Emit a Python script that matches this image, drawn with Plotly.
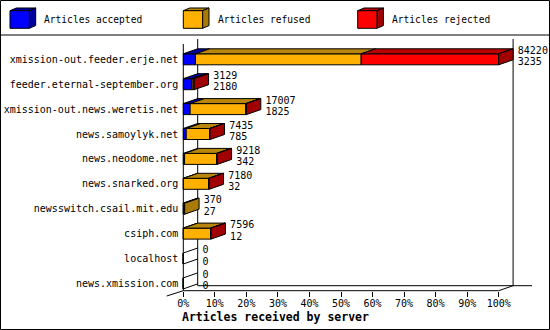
import plotly.graph_objects as go

# ---------------- data ----------------
servers = ["xmission-out.feeder.erje.net", "feeder.eternal-september.org",
           "xmission-out.news.weretis.net", "news.samoylyk.net", "news.neodome.net",
           "news.snarked.org", "newsswitch.csail.mit.edu", "csiph.com",
           "localhost", "news.xmission.com"]
offered = [84220, 3129, 17007, 7435, 9218, 7180, 370, 7596, 0, 0]
accepted = [3235, 2180, 1825, 785, 342, 32, 27, 12, 0, 0]
refused = [44255, 420, 14850, 6220, 8540, 6730, 343, 7260, 0, 0]
rejected = [36730, 300, 175, 145, 168, 138, 0, 128, 0, 0]
series_names = ["Articles accepted", "Articles refused", "Articles rejected"]
tick_pcts = [0, 10, 20, 30, 40, 50, 60, 70, 80, 90, 100]
tick_labels = [f"{t}%" for t in tick_pcts]
axis_title = "Articles received by server"

# ---------------- style ----------------
FRONT = ["#0000ff", "#ffb000", "#ff0000"]
TOP = ["#0000a8", "#b8860b", "#b80000"]
SIDE = ["#00009a", "#a87a08", "#a00000"]
FONT = "DejaVu Sans Mono"
W, H = 550, 330
SX = 3.154           # px per percent
SY = 24.9            # px per row
X0 = -183.3 / SX     # x value at left edge
Y0 = -59.3 / SY      # y value at top edge
DX = 14.4 / SX       # 3D depth in x units
DY = 5.0 / SY        # 3D depth in y units (upwards)
HH = 5.5 / SY        # half height of bar front
Y_FLOOR = (290.7 - 59.3) / SY

scale = max(a + r + j for a, r, j in zip(accepted, refused, rejected))
segs = [accepted, refused, rejected]

fig = go.Figure()

rows = list(range(len(servers)))
starts = [0.0] * len(servers)
seg_bounds = []
for k, vals in enumerate(segs):
    pct = [v / scale * 100 for v in vals]
    fig.add_trace(go.Bar(x=pct, y=rows, base=starts[:], orientation="h", width=2 * HH,
                         marker=dict(color=FRONT[k], line=dict(color="black", width=1)),
                         name=series_names[k], showlegend=False, hoverinfo="skip"))
    seg_bounds.append([(s, s + p) for s, p in zip(starts, pct)])
    starts = [s + p for s, p in zip(starts, pct)]

# top faces
for k in range(3):
    xs, ys = [], []
    for i in rows:
        a, b = seg_bounds[k][i]
        if b - a <= 0:
            continue
        yt = i - HH
        xs += [a, b, b + DX, a + DX, a, None]
        ys += [yt, yt, yt - DY, yt - DY, yt, None]
    if xs:
        fig.add_trace(go.Scatter(x=xs, y=ys, mode="lines", fill="toself", fillcolor=TOP[k],
                                 line=dict(color="black", width=1), showlegend=False, hoverinfo="skip"))

# side faces (last non-zero segment) and empty rows
zx, zy = [], []
for k in range(3):
    xs, ys = [], []
    for i in rows:
        last = max([kk for kk in range(3) if seg_bounds[kk][i][1] - seg_bounds[kk][i][0] > 0], default=None)
        if last != k:
            continue
        b = seg_bounds[k][i][1]
        yt, yb = i - HH, i + HH
        xs += [b, b + DX, b + DX, b, b, None]
        ys += [yt, yt - DY, yb - DY, yb, yt, None]
    if xs:
        fig.add_trace(go.Scatter(x=xs, y=ys, mode="lines", fill="toself", fillcolor=SIDE[k],
                                 line=dict(color="black", width=1), showlegend=False, hoverinfo="skip"))
for i in rows:
    if starts[i] <= 0:
        zx += [0, DX, None, 0, DX, None]
        zy += [i - HH, i - HH - DY, None, i + HH, i + HH - DY, None]
fig.add_trace(go.Scatter(x=zx, y=zy, mode="lines", line=dict(color="black", width=1),
                         showlegend=False, hoverinfo="skip"))

# value labels
lab_x = [s + DX + 4.7 / SX for s in starts]
fig.add_trace(go.Scatter(x=lab_x, y=[i - 7.8 / SY for i in rows], mode="text",
                         text=[str(v) for v in offered], textposition="middle right",
                         textfont=dict(family=FONT, size=10, color="black"),
                         showlegend=False, hoverinfo="skip"))
fig.add_trace(go.Scatter(x=lab_x, y=[i + 3.5 / SY for i in rows], mode="text",
                         text=[str(v) for v in accepted], textposition="middle right",
                         textfont=dict(family=FONT, size=10, color="black"),
                         showlegend=False, hoverinfo="skip"))

# walls / floor
yb_top_front = (44 - 59.3) / SY
yb_top_back = (39 - 59.3) / SY
x_back_end = (532 - 183.3) / SX
wall = [
    (0, yb_top_front, 0, Y_FLOOR),
    (DX, yb_top_back, DX, Y_FLOOR - DY),
    (100 + DX, yb_top_back, 100 + DX, Y_FLOOR - DY),
    (DX, Y_FLOOR - DY, x_back_end, Y_FLOOR - DY),
    (0, Y_FLOOR, 100, Y_FLOOR),
    (100, Y_FLOOR, 100 + DX, Y_FLOOR - DY),
    (-DX * 1.15, Y_FLOOR + DY * 1.06, 0, Y_FLOOR),
]
shapes = []
for x0, y0, x1, y1 in wall:
    shapes.append(dict(type="line", xref="x", yref="y", x0=x0, y0=y0, x1=x1, y1=y1,
                       line=dict(color="black", width=1), layer="below"))

# frame and separator
shapes.append(dict(type="rect", xref="paper", yref="paper", x0=0.5 / W, x1=549.5 / W,
                   y0=0.5 / H, y1=329.5 / H, line=dict(color="black", width=1)))
shapes.append(dict(type="line", xref="paper", yref="paper", x0=0, x1=1,
                   y0=1 - 35 / H, y1=1 - 35 / H, line=dict(color="black", width=1)))

# legend cubes
def px2paper(x, y):
    return x / W, 1 - y / H

def poly(points):
    p = [px2paper(x, y) for x, y in points]
    return "M " + " L ".join(f"{a:.5f},{b:.5f}" for a, b in p) + " Z"

annotations = []
leg_x = [10, 183.3, 357.7]
for k in range(3):
    x, y, w, h, dx, dy = leg_x[k], 10.7, 19.3, 17.6, 6.4, 2.7
    shapes.append(dict(type="path", xref="paper", yref="paper",
                       path=poly([(x, y), (x + w, y), (x + w + dx, y - dy), (x + dx, y - dy)]),
                       fillcolor=TOP[k], line=dict(color="black", width=1)))
    shapes.append(dict(type="path", xref="paper", yref="paper",
                       path=poly([(x + w, y), (x + w + dx, y - dy), (x + w + dx, y + h - dy), (x + w, y + h)]),
                       fillcolor=SIDE[k], line=dict(color="black", width=1)))
    shapes.append(dict(type="path", xref="paper", yref="paper",
                       path=poly([(x, y), (x + w, y), (x + w, y + h), (x, y + h)]),
                       fillcolor=FRONT[k], line=dict(color="black", width=1)))
    annotations.append(dict(xref="paper", yref="paper", x=(x + 32.3) / W, y=1 - 20 / H,
                            xanchor="left", yanchor="middle", showarrow=False,
                            text=series_names[k], font=dict(family=FONT, size=9.6, color="black")))

annotations.append(dict(xref="paper", yref="paper", x=180 / W, y=1 - 317.3 / H,
                        xanchor="left", yanchor="middle", showarrow=False,
                        text=f"<b>{axis_title}</b>", font=dict(family=FONT, size=11.5, color="black")))

fig.update_layout(
    width=W, height=H, autosize=False,
    margin=dict(l=0, r=0, t=0, b=0, pad=0),
    paper_bgcolor="white", plot_bgcolor="white",
    barmode="overlay", showlegend=False,
    shapes=shapes, annotations=annotations,
    xaxis=dict(domain=[0, 1], range=[X0, X0 + W / SX], anchor="free", position=1 - 290.7 / H,
               tickvals=tick_pcts, ticktext=tick_labels, ticks="outside", ticklen=5,
               tickcolor="black", tickwidth=1, showgrid=False, zeroline=False, showline=False,
               ticklabelstandoff=-2,
               tickfont=dict(family=FONT, size=10, color="black")),
    yaxis=dict(domain=[0, 1], range=[Y0 + H / SY, Y0], anchor="free", position=183.3 / W,
               tickvals=rows, ticktext=servers, ticks="", showgrid=False, zeroline=False,
               ticklabelstandoff=5,
               showline=False, tickfont=dict(family=FONT, size=10, color="black")),
)

fig.write_html("out.html")
